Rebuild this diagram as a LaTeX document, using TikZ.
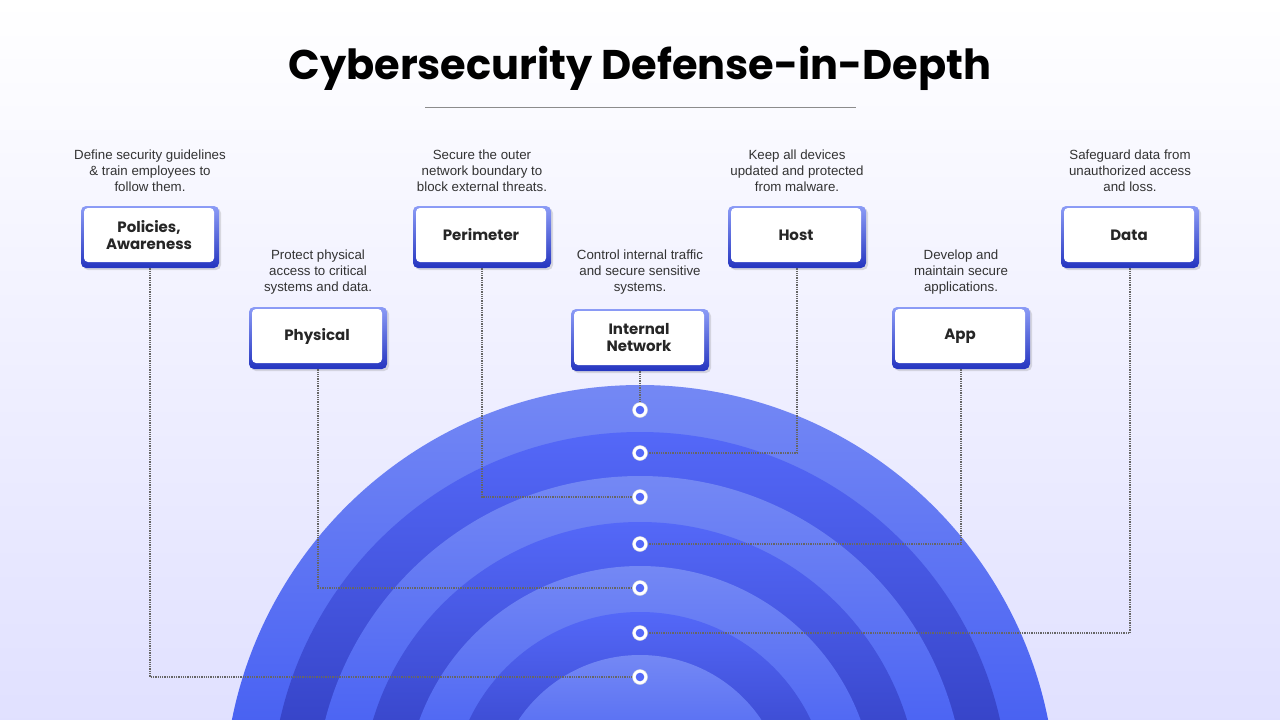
\documentclass[tikz,border=0pt]{standalone}
\usepackage{fontspec}
\setmainfont{Liberation Sans}
\newfontfamily\pop{Poppins}
\usetikzlibrary{shadows}
\definecolor{ringA}{HTML}{7488F4}
\definecolor{ringAb}{HTML}{0A2AF0}
\definecolor{ringB}{HTML}{5468F8}
\definecolor{ringBb}{HTML}{0A0E80}
\definecolor{frameT}{HTML}{8C9CF6}
\definecolor{frameB}{HTML}{2535C0}
\definecolor{txt}{HTML}{333333}
\tikzset{
 frame/.style={rounded corners=5pt, minimum width=138pt, minimum height=62pt, top color=frameT, bottom color=frameB, draw=none, drop shadow={shadow xshift=2pt,shadow yshift=-2pt,opacity=0.25}},
 inner/.style={rounded corners=4pt, minimum width=130pt, minimum height=54pt, fill=white, font=\pop\bfseries\fontsize{15}{17}\selectfont, align=center, text=black!85},
 desc/.style={font=\fontsize{13.3}{16}\selectfont, align=center, text=txt},
 link/.style={densely dotted, line width=1.3pt, draw=black!60},
 dot/.style={circle, fill=white, draw=black!15, line width=0.4pt, minimum size=15pt, inner sep=0pt, path picture={\fill[ringB] (path picture bounding box.center) circle (4.3pt);}}
}
\begin{document}
\begin{tikzpicture}[x=1pt,y=-1pt]
\shade[top color=white, bottom color=blue!12!white] (0,0) rectangle (1280,720);
\useasboundingbox (0,0) rectangle (1280,720);
\begin{scope}
\clip (0,0) rectangle (1280,720);
\foreach \r/\t/\b in {416/ringA/ringAb,369/ringB/ringBb,325/ringA/ringAb,279/ringB/ringBb,235/ringA/ringAb,189/ringB/ringBb,146/ringA/ringAb}{
  \shade[top color=\t, bottom color=\b, shading angle=0] (640,801) circle (\r);
}
\end{scope}
\node[font=\pop\bfseries\fontsize{41.5}{48}\selectfont] (title) at (640,68) {Cybersecurity Defense-in-Depth};
\draw[black!45, line width=0.8pt] (425,107) -- (856,107);
% boxes
\foreach \n/\x/\y/\t in {pol/150/237/{Policies,\\Awareness}, per/482/237/Perimeter, hos/797/237/Host, dat/1130/237/Data, phy/318/338/Physical, int/640/340/{Internal\\Network}, app/961/338/App}{
  \node[frame] (\n f) at (\x,\y) {};
  \node[inner] (\n) at (\x-1,\y-2) {\t};
}
% descriptions
\node[desc] (dpol) at (150,171) {Define security guidelines\\\& train employees to\\follow them.};
\node[desc] (dper) at (482,171) {Secure the outer\\network boundary to\\block external threats.};
\node[desc] (dhos) at (797,171) {Keep all devices\\updated and protected\\from malware.};
\node[desc] (ddat) at (1130,171) {Safeguard data from\\unauthorized access\\and loss.};
\node[desc] (dphy) at (318,272) {Protect physical\\access to critical\\systems and data.};
\node[desc] (dint) at (640,272) {Control internal traffic\\and secure sensitive\\systems.};
\node[desc] (dapp) at (961,272) {Develop and\\maintain secure\\applications.};
% dots
\foreach \n/\y in {d1/410,d2/453,d3/497,d4/544,d5/588,d6/633,d7/677}{
  \coordinate (\n) at (640,\y);
}
\draw[link] (intf.south) -- (d1);
\draw[link] (hosf.south) |- (d2);
\draw[link] (perf.south) |- (d3);
\draw[link] (appf.south) |- (d4);
\draw[link] (phyf.south) |- (d5);
\draw[link] (datf.south) |- (d6);
\draw[link] (polf.south) |- (d7);
\foreach \n in {d1,d2,d3,d4,d5,d6,d7}{\node[dot] at (\n) {};}
\end{tikzpicture}
\end{document}
